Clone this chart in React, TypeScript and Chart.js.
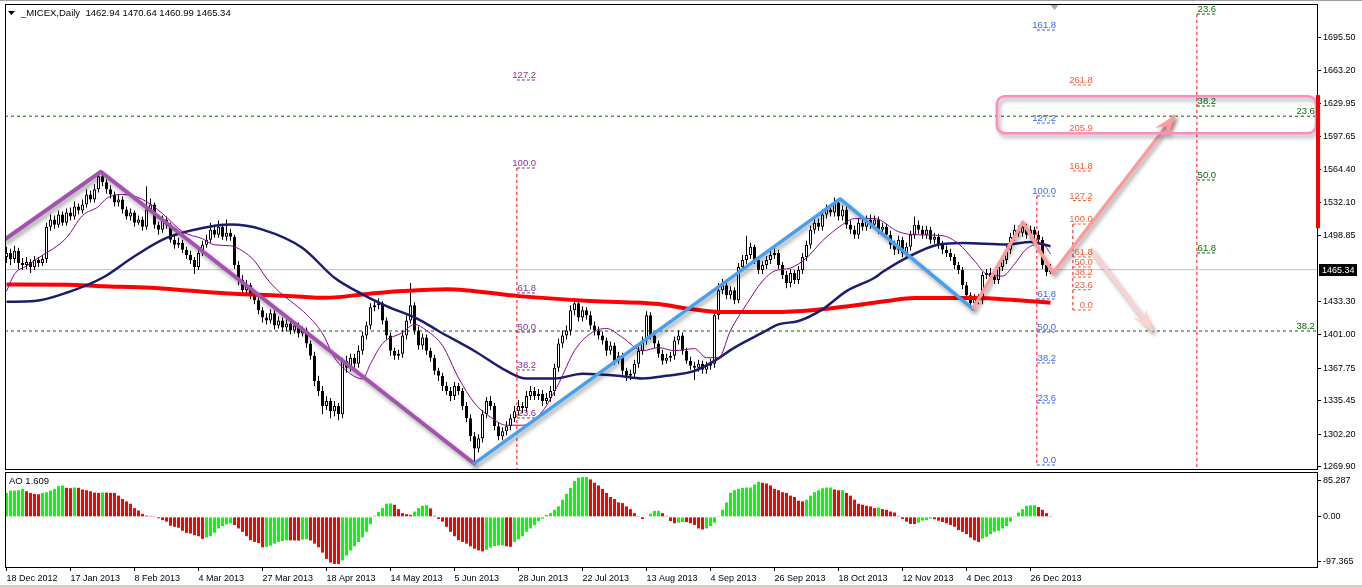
import React, { useEffect, useRef } from 'react';
import { Chart, registerables } from 'chart.js';

Chart.register(...registerables);

const FONT = '"Liberation Sans", Arial, sans-serif';

// ---------- axis / labels ----------
const dateLabels = ['18 Dec 2012', '17 Jan 2013', '8 Feb 2013', '4 Mar 2013', '27 Mar 2013', '18 Apr 2013', '14 May 2013', '5 Jun 2013', '28 Jun 2013', '22 Jul 2013', '13 Aug 2013', '4 Sep 2013', '26 Sep 2013', '18 Oct 2013', '12 Nov 2013', '4 Dec 2013', '26 Dec 2013'];
const dateIdx = [0, 16, 32, 48, 64, 80, 96, 112, 128, 144, 160, 176, 192, 208, 224, 240, 256];
const priceTicks = [1269.9, 1302.2, 1335.45, 1367.75, 1401.0, 1433.3, 1498.85, 1532.1, 1564.4, 1597.65, 1629.95, 1663.2, 1695.5];
const aoTicks = [70, 0, -85.4];
const aoTickLabels = ['85.287', '0.00', '-97.365'];
const titleText = '_MICEX,Daily  1462.94 1470.64 1460.99 1465.34';
const aoTitle = 'AO 1.609';
const lastPrice = 1465.34;

const X_MIN = -0.375;
const X_MAX = 327.625;
const Y_MIN = 1266.6;
const Y_MAX = 1728.9;
const AO_MIN = -97.365;
const AO_MAX = 85.287;

// ---------- candles ----------
const opens = [
  1478, 1482, 1476, 1484, 1472, 1470, 1473, 1468, 1475, 1472,
  1476, 1508, 1515, 1510, 1520, 1512, 1522, 1518, 1528, 1524,
  1530, 1540, 1535, 1545, 1558, 1552, 1545, 1540, 1532, 1535,
  1525, 1518, 1522, 1512, 1515, 1508, 1525, 1530, 1510, 1505,
  1515, 1510, 1495, 1490, 1492, 1485, 1480, 1475, 1468, 1482,
  1490, 1495, 1505, 1500, 1508, 1498, 1502, 1498, 1470, 1455,
  1445, 1450, 1440, 1435, 1425, 1418, 1415, 1422, 1410, 1415,
  1408, 1412, 1405, 1410, 1402, 1405, 1392, 1380, 1355, 1345,
  1330, 1335, 1325, 1330, 1322, 1375, 1368, 1378, 1372, 1385,
  1400, 1410, 1428, 1430, 1432, 1415, 1400, 1385, 1380, 1382,
  1400, 1415, 1430, 1405, 1390, 1398, 1385, 1378, 1365, 1360,
  1350, 1345, 1340, 1350, 1345, 1330, 1318, 1300, 1288, 1298,
  1322, 1335, 1330, 1310, 1300, 1305, 1310, 1318, 1325, 1330,
  1328, 1340, 1345, 1340, 1342, 1335, 1338, 1345, 1368, 1392,
  1400, 1405, 1425, 1432, 1418, 1425, 1420, 1410, 1405, 1400,
  1395, 1385, 1390, 1375, 1380, 1365, 1360, 1362, 1372, 1385,
  1395, 1420, 1400, 1392, 1382, 1375, 1378, 1380, 1395, 1400,
  1385, 1375, 1370, 1368, 1372, 1366, 1370, 1372, 1420, 1445,
  1450, 1440, 1445, 1435, 1468, 1475, 1480, 1488, 1475, 1465,
  1470, 1475, 1480, 1482, 1470, 1460, 1452, 1462, 1455, 1465,
  1478, 1490, 1505, 1512, 1508, 1520, 1525, 1522, 1532, 1518,
  1525, 1510, 1505, 1500, 1512, 1508, 1515, 1510, 1515, 1505,
  1508, 1500, 1490, 1485, 1495, 1482, 1488, 1500, 1510, 1505,
  1500, 1505, 1495, 1498, 1490, 1485, 1482, 1478, 1470, 1465,
  1450, 1440, 1432, 1438, 1435, 1460, 1462, 1458, 1455, 1468,
  1475, 1485, 1498, 1505, 1502, 1508, 1500, 1505, 1500, 1495,
  1470, 1462.94,
];
const highs = [
  1488, 1486, 1489, 1487, 1477, 1478, 1476, 1479, 1478, 1480,
  1512, 1520, 1519, 1524, 1523, 1526, 1527, 1533, 1531, 1535,
  1545, 1544, 1550, 1563, 1562, 1555, 1549, 1543, 1540, 1538,
  1528, 1526, 1524, 1519, 1518, 1548, 1536, 1532, 1513, 1519,
  1518, 1512, 1499, 1497, 1495, 1488, 1484, 1478, 1486, 1494,
  1500, 1512, 1510, 1514, 1511, 1515, 1506, 1500, 1474, 1460,
  1455, 1452, 1444, 1438, 1428, 1422, 1426, 1425, 1419, 1418,
  1416, 1415, 1414, 1413, 1409, 1408, 1395, 1384, 1360, 1350,
  1340, 1338, 1335, 1333, 1378, 1380, 1382, 1382, 1390, 1404,
  1414, 1432, 1435, 1437, 1434, 1418, 1403, 1388, 1386, 1405,
  1420, 1452, 1433, 1409, 1402, 1401, 1388, 1381, 1368, 1363,
  1354, 1349, 1354, 1353, 1348, 1334, 1322, 1304, 1302, 1326,
  1339, 1340, 1333, 1314, 1309, 1315, 1322, 1330, 1336, 1334,
  1345, 1350, 1349, 1347, 1346, 1343, 1350, 1372, 1397, 1405,
  1410, 1430, 1437, 1435, 1429, 1428, 1424, 1414, 1409, 1404,
  1398, 1394, 1393, 1384, 1383, 1368, 1366, 1376, 1389, 1399,
  1424, 1423, 1404, 1395, 1386, 1382, 1384, 1399, 1405, 1403,
  1388, 1379, 1374, 1376, 1375, 1374, 1377, 1424, 1452, 1456,
  1454, 1449, 1448, 1472, 1480, 1499, 1492, 1490, 1478, 1474,
  1479, 1484, 1488, 1485, 1473, 1464, 1466, 1465, 1469, 1482,
  1494, 1509, 1517, 1516, 1525, 1530, 1529, 1537, 1536, 1529,
  1528, 1514, 1509, 1516, 1518, 1519, 1520, 1519, 1518, 1512,
  1511, 1504, 1494, 1499, 1498, 1492, 1504, 1518, 1514, 1509,
  1509, 1508, 1502, 1501, 1494, 1489, 1486, 1481, 1473, 1468,
  1453, 1443, 1441, 1441, 1463, 1466, 1467, 1462, 1472, 1479,
  1489, 1502, 1510, 1509, 1512, 1511, 1509, 1508, 1504, 1498,
  1472, 1470.64,
];
const lows = [
  1472, 1470, 1472, 1466, 1465, 1466, 1462, 1465, 1468, 1469,
  1472, 1504, 1506, 1507, 1509, 1509, 1514, 1515, 1520, 1521,
  1527, 1532, 1532, 1542, 1548, 1541, 1536, 1528, 1528, 1521,
  1515, 1514, 1508, 1510, 1504, 1505, 1522, 1506, 1500, 1502,
  1506, 1492, 1486, 1487, 1482, 1476, 1471, 1461, 1465, 1479,
  1487, 1492, 1497, 1497, 1495, 1494, 1494, 1466, 1450, 1440,
  1440, 1436, 1431, 1421, 1413, 1411, 1412, 1406, 1407, 1404,
  1404, 1401, 1402, 1398, 1399, 1388, 1376, 1350, 1340, 1322,
  1326, 1318, 1320, 1316, 1318, 1363, 1364, 1368, 1368, 1381,
  1396, 1406, 1424, 1426, 1411, 1396, 1380, 1376, 1376, 1378,
  1396, 1412, 1401, 1386, 1386, 1381, 1374, 1361, 1355, 1345,
  1341, 1335, 1336, 1341, 1326, 1314, 1295, 1273, 1284, 1294,
  1318, 1326, 1306, 1296, 1296, 1301, 1306, 1314, 1321, 1323,
  1324, 1336, 1336, 1336, 1330, 1332, 1334, 1340, 1364, 1388,
  1396, 1400, 1420, 1414, 1414, 1416, 1406, 1400, 1396, 1391,
  1380, 1381, 1371, 1372, 1361, 1355, 1356, 1358, 1368, 1381,
  1391, 1396, 1388, 1378, 1371, 1372, 1374, 1376, 1391, 1381,
  1372, 1366, 1356, 1364, 1362, 1362, 1366, 1368, 1416, 1441,
  1436, 1436, 1431, 1432, 1464, 1471, 1476, 1471, 1461, 1461,
  1466, 1471, 1476, 1466, 1456, 1447, 1448, 1451, 1451, 1461,
  1474, 1486, 1501, 1504, 1504, 1516, 1518, 1518, 1514, 1514,
  1506, 1501, 1496, 1496, 1504, 1504, 1506, 1506, 1501, 1502,
  1496, 1486, 1480, 1481, 1478, 1478, 1484, 1496, 1501, 1496,
  1496, 1491, 1491, 1486, 1481, 1478, 1474, 1466, 1461, 1446,
  1436, 1428, 1427, 1431, 1431, 1456, 1454, 1451, 1451, 1464,
  1471, 1481, 1494, 1498, 1498, 1496, 1496, 1496, 1491, 1466,
  1459, 1460.99,
];
const closes = [
  1482, 1476, 1484, 1472, 1470, 1473, 1468, 1475, 1472, 1476,
  1508, 1515, 1510, 1520, 1512, 1522, 1518, 1528, 1524, 1530,
  1540, 1535, 1545, 1558, 1552, 1545, 1540, 1532, 1535, 1525,
  1518, 1522, 1512, 1515, 1508, 1525, 1530, 1510, 1505, 1515,
  1510, 1495, 1490, 1492, 1485, 1480, 1475, 1468, 1482, 1490,
  1495, 1505, 1500, 1508, 1498, 1502, 1498, 1470, 1455, 1445,
  1450, 1440, 1435, 1425, 1418, 1415, 1422, 1410, 1415, 1408,
  1412, 1405, 1410, 1402, 1405, 1392, 1380, 1355, 1345, 1330,
  1335, 1325, 1330, 1322, 1375, 1368, 1378, 1372, 1385, 1400,
  1410, 1428, 1430, 1432, 1415, 1400, 1385, 1380, 1382, 1400,
  1415, 1430, 1405, 1390, 1398, 1385, 1378, 1365, 1360, 1350,
  1345, 1340, 1350, 1345, 1330, 1318, 1300, 1288, 1298, 1322,
  1335, 1330, 1310, 1300, 1305, 1310, 1318, 1325, 1330, 1328,
  1340, 1345, 1340, 1342, 1335, 1338, 1345, 1368, 1392, 1400,
  1405, 1425, 1432, 1418, 1425, 1420, 1410, 1405, 1400, 1395,
  1385, 1390, 1375, 1380, 1365, 1360, 1362, 1372, 1385, 1395,
  1420, 1400, 1392, 1382, 1375, 1378, 1380, 1395, 1400, 1385,
  1375, 1370, 1368, 1372, 1366, 1370, 1372, 1420, 1445, 1450,
  1440, 1445, 1435, 1468, 1475, 1480, 1488, 1475, 1465, 1470,
  1475, 1480, 1482, 1470, 1460, 1452, 1462, 1455, 1465, 1478,
  1490, 1505, 1512, 1508, 1520, 1525, 1522, 1532, 1518, 1525,
  1510, 1505, 1500, 1512, 1508, 1515, 1510, 1515, 1505, 1508,
  1500, 1490, 1485, 1495, 1482, 1488, 1500, 1510, 1505, 1500,
  1505, 1495, 1498, 1490, 1485, 1482, 1478, 1470, 1465, 1450,
  1440, 1432, 1438, 1435, 1460, 1462, 1458, 1455, 1468, 1475,
  1485, 1498, 1505, 1502, 1508, 1500, 1505, 1500, 1495, 1470,
  1463, 1465.34,
];

// ---------- moving averages (read at sample bars) ----------
const ma200Idx = [0, 15, 24, 36, 47, 57, 65, 74, 79, 83, 89, 99, 110, 128, 146, 163, 171, 179, 192, 202, 211, 220, 227, 242, 252, 261];
const ma200Val = [1450.7, 1450.5, 1449.0, 1447.4, 1444.1, 1441.4, 1440.1, 1438.4, 1437.5, 1438.1, 1440.8, 1444.1, 1446.0, 1439.1, 1434.2, 1431.2, 1426.3, 1423.3, 1423.3, 1425.3, 1429.2, 1434.2, 1437.2, 1437.2, 1435.2, 1432.5];
const ma50Idx = [0, 7, 15, 24, 32, 40, 49, 56, 64, 74, 82, 89, 95, 103, 108, 117, 125, 130, 137, 144, 153, 159, 165, 172, 177, 182, 189, 193, 198, 204, 210, 217, 219, 225, 233, 239, 250, 256, 261];
const ma50Val = [1433.5, 1434.2, 1442.4, 1457.3, 1478.7, 1496.8, 1506.7, 1510.1, 1505.1, 1486.9, 1457.3, 1440.8, 1429.2, 1416.1, 1404.5, 1384.7, 1364.9, 1357.3, 1357.3, 1362.2, 1360.0, 1357.3, 1360.0, 1364.9, 1374.8, 1388.0, 1402.8, 1411.1, 1414.4, 1426.0, 1444.1, 1457.3, 1463.0, 1477.1, 1490.3, 1491.9, 1490.3, 1492.9, 1488.6];
const ma8Idx = [0, 2, 5, 8, 15, 19, 23, 25, 29, 34, 39, 44, 49, 52, 56, 59, 62, 65, 68, 72, 75, 79, 82, 86, 89, 91, 94, 99, 102, 105, 109, 113, 117, 121, 125, 129, 134, 138, 142, 146, 150, 154, 159, 163, 167, 172, 175, 178, 181, 185, 189, 192, 196, 200, 204, 209, 212, 217, 223, 227, 234, 238, 242, 245, 249, 252, 255, 259, 261];
const ma8Val = [1444, 1461, 1469, 1477, 1497, 1519, 1528, 1536, 1540, 1535, 1521, 1503, 1496, 1490, 1489, 1484, 1474, 1457, 1444, 1431, 1421, 1402, 1378, 1362, 1357, 1372, 1392, 1403, 1411, 1405, 1390, 1358, 1333, 1319, 1311, 1311, 1325, 1352, 1385, 1402, 1407, 1398, 1385, 1388, 1385, 1387, 1378, 1378, 1405, 1431, 1454, 1464, 1467, 1477, 1494, 1510, 1516, 1516, 1503, 1500, 1499, 1491, 1474, 1461, 1459, 1471, 1486, 1491, 1481];

// ---------- Awesome Oscillator ----------
const aoValues = [
  45.5, 50.0, 50.1, 50.7, 53.2, 48.7, 45.5, 43.6, 42.9, 45.5,
  46.8, 50.0, 53.2, 58.4, 59.7, 55.1, 54.5, 55.8, 55.1, 51.9,
  50.6, 48.7, 46.1, 45.5, 46.2, 46.1, 45.6, 45.5, 40.3, 33.9,
  29.4, 24.9, 16.5, 12.0, 5.6, 2.4, 1.7, 0.5, -2.8, -6.0,
  -9.2, -16.9, -18.9, -20.8, -26.6, -30.5, -31.8, -35.0, -36.9, -42.0,
  -39.4, -36.9, -30.5, -22.1, -17.6, -14.4, -12.4, -15.6, -22.1, -28.5,
  -36.9, -44.6, -47.8, -50.0, -58.0, -57.0, -55.0, -51.0, -47.8, -46.0,
  -44.6, -44.8, -45.0, -45.2, -43.5, -42.5, -45.0, -51.0, -58.0, -68.0,
  -80.0, -87.0, -89.6, -89.8, -83.0, -73.6, -64.0, -56.0, -47.8, -39.0,
  -28.5, -14.0, 2.0, 9.0, 17.0, 25.0, 25.5, 23.0, 14.6, 7.0,
  5.0, 3.7, 10.0, 16.5, 21.0, 22.0, 16.0, 2.0, -4.0, -9.2,
  -19.0, -28.5, -37.0, -44.6, -47.8, -51.0, -56.2, -60.7, -63.9, -65.8,
  -62.6, -58.8, -55.5, -54.3, -54.0, -56.0, -57.0, -47.8, -42.7, -36.9,
  -28.5, -22.1, -15.6, -7.9, -3.4, 3.7, 6.9, 13.3, 19.8, 32.6,
  43.6, 55.1, 68.0, 74.4, 75.7, 75.8, 71.2, 64.8, 59.7, 53.2,
  45.5, 37.8, 33.9, 27.4, 26.2, 19.8, 14.6, 6.9, 0.4, -4.1,
  -0.8, 5.6, 11.4, 11.5, 6.9, 1.7, -7.9, -12.4, -11.1, -9.9,
  -10.0, -12.4, -15.6, -22.1, -24.1, -22.0, -17.6, -11.0, 0.4, 13.3,
  27.4, 45.5, 50.6, 53.2, 55.1, 55.8, 55.9, 61.6, 66.8, 64.8,
  63.5, 59.7, 53.2, 50.6, 46.8, 45.5, 40.3, 37.8, 30.7, 29.4,
  32.6, 40.3, 46.8, 50.6, 54.5, 55.8, 55.9, 52.0, 50.6, 50.7,
  45.5, 40.3, 32.6, 24.9, 23.0, 21.0, 19.8, 16.5, 17.8, 14.6,
  13.3, 10.1, 8.2, 1.7, -4.1, -9.2, -13.7, -13.8, -11.1, -7.3,
  -6.0, -3.4, -4.7, -7.3, -9.9, -12.4, -15.6, -18.9, -25.3, -28.5,
  -33.0, -39.4, -44.6, -47.8, -41.3, -38.1, -33.0, -28.5, -26.6, -22.1,
  -17.6, -9.2, 0.4, 8.2, 14.6, 21.0, 21.7, 21.8, 18.5, 13.3,
  6.9, 1.609,
];

// ---------- drawings ----------
const zigPurpleIdx = [-0.375, 23.6, 116.9];
const zigPurpleVal = [1495.5, 1562.5, 1273.0];
const zigBlueIdx = [116.9, 208.4, 241.6];
const zigBlueVal = [1273.0, 1535.5, 1426.5];
const pinkIdx = [241.6, 254.1, 261.6, 292.1];
const pinkVal = [1426.5, 1512.5, 1462.0, 1618.5];
const fadeIdx = [270.9, 286.6];
const fadeVal = [1486.5, 1404.5];

const purpleFibLabels = ['127.2', '100.0', '61.8', '50.0', '38.2', '23.6'];
const purpleFibVals = [1653.5, 1566.2, 1442.2, 1403.5, 1365.8, 1318.2];
const purpleFibRange = [127.6, 132.4];
const blueFibLabels = ['161.8', '127.2', '100.0', '61.8', '50.0', '38.2', '23.6', '0.0'];
const blueFibVals = [1703.1, 1610.8, 1538.4, 1436.3, 1403.5, 1372.8, 1333.1, 1271.6];
const blueFibRange = [257.6, 262.4];
const orangeFibLabels = ['261.8', '205.9', '161.8', '127.2', '100.0', '61.8', '50.0', '38.2', '23.6', '0.0'];
const orangeFibVals = [1648.6, 1601.0, 1563.3, 1533.9, 1510.6, 1478.0, 1468.0, 1458.0, 1445.5, 1425.3];
const orangeFibRange = [266.6, 271.6];
const greenFibLabels = ['23.6', '38.2', '50.0', '61.8'];
const greenFibVals = [1718.9, 1627.7, 1554.3, 1481.9];
const greenFibRange = [297.6, 302.4];
const longGreenLabels = ['23.6', '38.2'];
const longGreenVals = [1617.6, 1404.5];
const longGreenLabelIdx = 327.1;

const vLineIdx = [127.6, 257.6, 266.6, 297.6];
const vLineFrom = [1566.2, 1538.4, 1510.6, 1718.9];
const vLineTo = [1240.8, 1271.6, 1425.3, 1240.0];

const boxIdx = [247.6, 327.4];
const boxVal = [1637.5, 1600.8];
const sideBarVal = [1638.5, 1506.5];
const shiftIdx = 262;

// ---------- helpers ----------
const pts = (xs: number[], ys: number[]) => xs.map((x, k) => ({ x, y: ys[k] }));

function levelSegments(range: number[], vals: number[]) {
  const out: any[] = [];
  vals.forEach((v) => {
    out.push({ x: range[0], y: v }, { x: range[1], y: v }, { x: range[1], y: null });
  });
  return out;
}

function verticalSegments() {
  const out: any[] = [];
  vLineIdx.forEach((x, k) => {
    out.push({ x, y: vLineFrom[k] }, { x, y: vLineTo[k] }, { x, y: null });
  });
  return out;
}

function longSegments() {
  const out: any[] = [];
  longGreenVals.forEach((v) => {
    out.push({ x: X_MIN, y: v }, { x: X_MAX, y: v }, { x: X_MAX, y: null });
  });
  return out;
}

function setShadow(ctx: CanvasRenderingContext2D) {
  ctx.shadowColor = 'rgba(0,0,0,0.38)';
  ctx.shadowBlur = 4;
  ctx.shadowOffsetX = 2;
  ctx.shadowOffsetY = 3;
}

function arrowHead(ctx: CanvasRenderingContext2D, x1: number, y1: number, x2: number, y2: number, color: string) {
  const a = Math.atan2(y2 - y1, x2 - x1);
  const len = 22;
  const wid = 8;
  const bx = x2 - len * Math.cos(a);
  const by = y2 - len * Math.sin(a);
  ctx.beginPath();
  ctx.moveTo(x2, y2);
  ctx.lineTo(bx + wid * Math.sin(a), by - wid * Math.cos(a));
  ctx.lineTo(bx + 0.35 * len * Math.cos(a), by + 0.35 * len * Math.sin(a));
  ctx.lineTo(bx - wid * Math.sin(a), by + wid * Math.cos(a));
  ctx.closePath();
  ctx.fillStyle = color;
  ctx.fill();
}

const shadowPlugin = {
  id: 'dsShadow',
  beforeDatasetDraw(chart: any, args: any) {
    const ds = chart.data.datasets[args.index];
    if (ds.shadow) {
      chart.ctx.save();
      setShadow(chart.ctx);
    }
  },
  afterDatasetDraw(chart: any, args: any) {
    const ds = chart.data.datasets[args.index];
    if (ds.shadow) chart.ctx.restore();
  },
};

const mainDeco = {
  id: 'mainDeco',
  afterDatasetsDraw(chart: any) {
    const ctx = chart.ctx as CanvasRenderingContext2D;
    const xs = chart.scales.x;
    const ys = chart.scales.y;
    const area = chart.chartArea;
    ctx.save();
    ctx.beginPath();
    ctx.rect(area.left, area.top, area.right - area.left, area.bottom - area.top);
    ctx.clip();

    // fibonacci texts
    ctx.font = `9.5px ${FONT}`;
    ctx.textAlign = 'right';
    ctx.textBaseline = 'alphabetic';
    const drawSet = (labels: string[], vals: number[], xr: number, color: string) => {
      ctx.fillStyle = color;
      labels.forEach((t, k) => {
        ctx.fillText(t, xs.getPixelForValue(xr), ys.getPixelForValue(vals[k]) - 2);
      });
    };
    drawSet(purpleFibLabels, purpleFibVals, purpleFibRange[1], '#8e2f96');
    drawSet(blueFibLabels, blueFibVals, blueFibRange[1], '#3d67e0');
    drawSet(orangeFibLabels, orangeFibVals, orangeFibRange[1], '#f0603c');
    drawSet(greenFibLabels, greenFibVals, greenFibRange[1], '#0a6a0a');
    drawSet(longGreenLabels, longGreenVals, longGreenLabelIdx, '#0a6a0a');

    // arrow heads
    ctx.save();
    setShadow(ctx);
    const n = pinkIdx.length;
    arrowHead(ctx,
      xs.getPixelForValue(pinkIdx[n - 2]), ys.getPixelForValue(pinkVal[n - 2]),
      xs.getPixelForValue(pinkIdx[n - 1]), ys.getPixelForValue(pinkVal[n - 1]), '#ff9a9a');
    ctx.shadowColor = 'rgba(0,0,0,0.12)';
    arrowHead(ctx,
      xs.getPixelForValue(fadeIdx[0]), ys.getPixelForValue(fadeVal[0]),
      xs.getPixelForValue(fadeIdx[1]), ys.getPixelForValue(fadeVal[1]), '#ffd2d2');
    ctx.restore();

    // pink rounded box
    ctx.save();
    setShadow(ctx);
    const bx1 = xs.getPixelForValue(boxIdx[0]);
    const bx2 = xs.getPixelForValue(boxIdx[1]);
    const by1 = ys.getPixelForValue(boxVal[0]);
    const by2 = ys.getPixelForValue(boxVal[1]);
    ctx.beginPath();
    if ((ctx as any).roundRect) (ctx as any).roundRect(bx1, by1, bx2 - bx1, by2 - by1, 8);
    else ctx.rect(bx1, by1, bx2 - bx1, by2 - by1);
    ctx.strokeStyle = '#ff8cc0';
    ctx.lineWidth = 2.5;
    ctx.stroke();
    ctx.restore();

    // shift marker
    const sx = xs.getPixelForValue(shiftIdx);
    ctx.fillStyle = '#a8a8a8';
    ctx.beginPath();
    ctx.moveTo(sx - 4, area.top + 1);
    ctx.lineTo(sx + 4, area.top + 1);
    ctx.lineTo(sx, area.top + 6);
    ctx.closePath();
    ctx.fill();
    ctx.restore();
  },
  afterDraw(chart: any) {
    const ctx = chart.ctx as CanvasRenderingContext2D;
    const ys = chart.scales.y;
    const area = chart.chartArea;
    ctx.save();
    // frame
    ctx.strokeStyle = '#000';
    ctx.lineWidth = 1;
    ctx.strokeRect(area.left + 0.5, area.top + 0.5, area.right - area.left, area.bottom - area.top - 1);
    // red side bar
    const t = ys.getPixelForValue(sideBarVal[0]);
    const b = ys.getPixelForValue(sideBarVal[1]);
    ctx.fillStyle = '#ff0000';
    ctx.fillRect(area.right - 1, t, 4, b - t);
    // current price label
    const py = ys.getPixelForValue(lastPrice);
    ctx.fillStyle = '#000';
    ctx.fillRect(area.right + 2, Math.round(py) - 6, 38, 12);
    ctx.fillStyle = '#fff';
    ctx.font = `9px ${FONT}`;
    ctx.textAlign = 'left';
    ctx.textBaseline = 'middle';
    ctx.fillText(lastPrice.toFixed(2), area.right + 5, Math.round(py) + 0.5);
    // title
    ctx.fillStyle = '#000';
    ctx.beginPath();
    ctx.moveTo(8, 11);
    ctx.lineTo(15, 11);
    ctx.lineTo(11.5, 15);
    ctx.closePath();
    ctx.fill();
    ctx.font = `9.5px ${FONT}`;
    ctx.textBaseline = 'alphabetic';
    ctx.fillText(titleText, 21, 16);
    ctx.restore();
  },
};

const aoDeco = {
  id: 'aoDeco',
  afterDraw(chart: any) {
    const ctx = chart.ctx as CanvasRenderingContext2D;
    const area = chart.chartArea;
    ctx.save();
    ctx.strokeStyle = '#000';
    ctx.lineWidth = 1;
    ctx.strokeRect(area.left + 0.5, area.top + 0.5, area.right - area.left, area.bottom - area.top - 1);
    ctx.fillStyle = '#000';
    ctx.font = `9.5px ${FONT}`;
    ctx.textAlign = 'left';
    ctx.fillText(aoTitle, 9, 13);
    ctx.restore();
  },
};

function lineDs(data: any[], color: string, width: number, order: number, extra: any = {}) {
  return {
    type: 'line',
    data,
    borderColor: color,
    borderWidth: width,
    pointRadius: 0,
    pointHoverRadius: 0,
    fill: false,
    spanGaps: false,
    order,
    ...extra,
  };
}

const noVPad = (s: any) => {
  s.width = 45;
  s.paddingTop = 0;
  s.paddingBottom = 0;
};

function mainConfig(): any {
  const wick = closes.map((c, i) => ({ x: i, y: [lows[i], highs[i]] }));
  const body = closes.map((c, i) => ({ x: i, y: [opens[i], c] }));
  const bodyColors = closes.map((c, i) => (c >= opens[i] ? '#ffffff' : '#000000'));
  return {
    type: 'bar',
    data: {
      datasets: [
        lineDs([{ x: X_MIN, y: lastPrice }, { x: X_MAX, y: lastPrice }], '#c0c0c0', 1, 30),
        lineDs(longSegments(), '#006400', 1, 29, { borderDash: [3, 3] }),
        {
          type: 'bar', data: wick, backgroundColor: '#000', borderWidth: 0,
          barThickness: 1, grouped: false, inflateAmount: 0, order: 25,
        },
        {
          type: 'bar', data: body, backgroundColor: bodyColors, borderColor: '#000', borderWidth: 1,
          borderSkipped: false, barThickness: 3, grouped: false, inflateAmount: 0, order: 24,
        },
        lineDs(pts(ma200Idx, ma200Val), '#ff0000', 4, 20, { cubicInterpolationMode: 'monotone' }),
        lineDs(pts(ma50Idx, ma50Val), '#1c1c6e', 2.5, 19, { cubicInterpolationMode: 'monotone' }),
        lineDs(pts(ma8Idx, ma8Val), '#8b008b', 1, 18, { cubicInterpolationMode: 'monotone' }),
        lineDs(verticalSegments(), '#ff0000', 1, 15, { borderDash: [3, 3] }),
        lineDs(levelSegments(purpleFibRange, purpleFibVals), '#8e2f96', 1, 14, { borderDash: [3, 2] }),
        lineDs(levelSegments(blueFibRange, blueFibVals), '#3d67e0', 1, 14, { borderDash: [3, 2] }),
        lineDs(levelSegments(orangeFibRange, orangeFibVals), '#f0603c', 1, 14, { borderDash: [3, 2] }),
        lineDs(levelSegments(greenFibRange, greenFibVals), '#0a6a0a', 1, 14, { borderDash: [3, 2] }),
        lineDs(pts(zigPurpleIdx, zigPurpleVal), '#a452b0', 4, 6, { shadow: true, borderCapStyle: 'round', borderJoinStyle: 'round' }),
        lineDs(pts(zigBlueIdx, zigBlueVal), '#45a0f0', 3.5, 5, { shadow: true, borderCapStyle: 'round', borderJoinStyle: 'round' }),
        lineDs(pts(fadeIdx, fadeVal), '#ffd2d2', 3.5, 4, { shadow: true }),
        lineDs(pts(pinkIdx, pinkVal), '#ff9a9a', 3.5, 3, { shadow: true, borderJoinStyle: 'round' }),
      ],
    },
    options: {
      animation: false,
      responsive: false,
      maintainAspectRatio: false,
      devicePixelRatio: 1,
      events: [],
      layout: { padding: { left: 5, top: 4, right: 0, bottom: 1 } },
      plugins: { legend: { display: false }, tooltip: { enabled: false } },
      scales: {
        x: { type: 'linear', min: X_MIN, max: X_MAX, display: false, offset: false, grid: { offset: false } },
        y: {
          type: 'linear', position: 'right', min: Y_MIN, max: Y_MAX, beginAtZero: false,
          afterBuildTicks: (s: any) => { s.ticks = priceTicks.map((v) => ({ value: v })); },
          afterFit: noVPad,
          ticks: {
            font: { family: FONT, size: 9 }, color: '#000', padding: 2, autoSkip: false,
            callback: (v: any) => Number(v).toFixed(2),
          },
          grid: { drawOnChartArea: false, drawTicks: true, tickLength: 4, color: '#000' },
          border: { display: false },
        },
      },
    },
    plugins: [shadowPlugin, mainDeco],
  };
}

function aoConfig(): any {
  const data = aoValues.map((v, i) => ({ x: i, y: v }));
  const colors = aoValues.map((v, i) => (i === 0 || v > aoValues[i - 1] ? '#00ff00' : '#ff0000'));
  return {
    type: 'bar',
    data: {
      datasets: [{
        type: 'bar', data, backgroundColor: colors, borderWidth: 0,
        barThickness: 3, grouped: false, inflateAmount: 0,
      }],
    },
    options: {
      animation: false,
      responsive: false,
      maintainAspectRatio: false,
      devicePixelRatio: 1,
      events: [],
      layout: { padding: { left: 5, top: 1, right: 0, bottom: 0 } },
      plugins: { legend: { display: false }, tooltip: { enabled: false } },
      scales: {
        x: {
          type: 'linear', min: X_MIN, max: X_MAX, offset: false,
          afterBuildTicks: (s: any) => { s.ticks = dateIdx.map((v) => ({ value: v })); },
          afterFit: (s: any) => { s.height = 20; s.paddingLeft = 0; s.paddingRight = 0; },
          ticks: {
            font: { family: FONT, size: 9 }, color: '#000', padding: 2, autoSkip: false,
            maxRotation: 0, minRotation: 0, align: 'start',
            callback: (v: any, k: number) => dateLabels[k],
          },
          grid: { drawOnChartArea: false, drawTicks: true, tickLength: 3, color: '#000', offset: false },
          border: { display: false },
        },
        y: {
          type: 'linear', position: 'right', min: AO_MIN, max: AO_MAX, beginAtZero: false,
          afterBuildTicks: (s: any) => { s.ticks = aoTicks.map((v) => ({ value: v })); },
          afterFit: noVPad,
          ticks: {
            font: { family: FONT, size: 9 }, color: '#000', padding: 2, autoSkip: false,
            callback: (v: any, k: number) => aoTickLabels[k],
          },
          grid: { drawOnChartArea: false, drawTicks: true, tickLength: 4, color: '#000' },
          border: { display: false },
        },
      },
    },
    plugins: [aoDeco],
  };
}

export default function App() {
  const mainRef = useRef<HTMLCanvasElement>(null);
  const aoRef = useRef<HTMLCanvasElement>(null);
  useEffect(() => {
    const c1 = new Chart(mainRef.current as HTMLCanvasElement, mainConfig());
    const c2 = new Chart(aoRef.current as HTMLCanvasElement, aoConfig());
    return () => {
      c1.destroy();
      c2.destroy();
    };
  }, []);
  return (
    <div style={{ position: 'fixed', left: 0, top: 0, width: 1362, height: 588, background: '#fff', overflow: 'hidden' }}>
      <canvas ref={mainRef} width={1362} height={471} style={{ position: 'absolute', left: 0, top: 0, width: 1362, height: 471 }} />
      <canvas ref={aoRef} width={1362} height={117} style={{ position: 'absolute', left: 0, top: 471, width: 1362, height: 117 }} />
      <div style={{ position: 'absolute', left: 0, top: 0, width: 1362, height: 1, background: '#a0a0a0' }} />
      <div style={{ position: 'absolute', left: 0, top: 585, width: 1362, height: 3, background: '#d4d0c8' }} />
    </div>
  );
}
